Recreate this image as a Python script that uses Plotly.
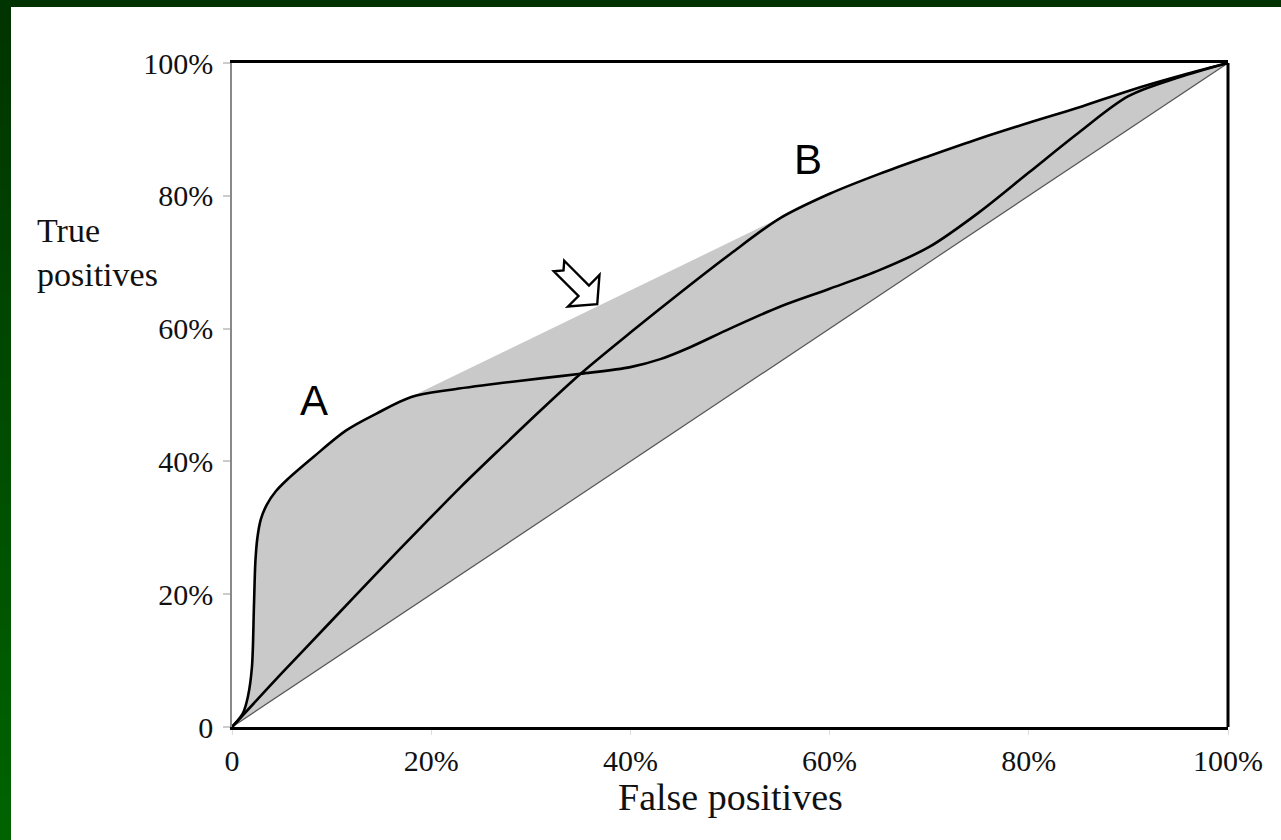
import plotly.graph_objects as go
import math

# ---------------- data ----------------
A_FPR = [0, 1.1, 1.6, 2.0, 2.2, 2.35, 2.55, 2.9, 3.5, 4.4, 5.5, 8.2, 11.5, 14.5, 18, 22, 27, 31,
         35, 40, 43, 46, 50, 55, 60, 65, 70, 75, 80, 85, 90, 95, 100]
A_TPR = [0, 2.1, 4.6, 9, 18, 25, 28.5, 31.3, 33.5, 35.5, 37.2, 40.7, 44.7, 47.2, 49.7, 50.8, 51.8,
         52.5, 53.2, 54.2, 55.4, 57.2, 60, 63.3, 66, 68.8, 72.3, 77.5, 83.5, 89.5, 95, 97.8, 100]

B_FPR = [0, 5, 10, 15, 19, 23, 27, 31, 35, 40, 45, 50, 55, 60, 65, 70, 75, 80, 85, 90, 95, 100]
B_TPR = [0, 8.1, 16, 23.9, 30.1, 36.2, 42, 47.7, 53.2, 59.4, 65.4, 71.2, 76.6, 80.3, 83.3,
         86, 88.6, 91, 93.3, 95.8, 98, 100]

DIAG_X = [0, 100]
DIAG_Y = [0, 100]

TICK_VALS = [0, 20, 40, 60, 80, 100]
TICK_TEXT = ["0", "20%", "40%", "60%", "80%", "100%"]

CURVE_LABELS = ["A", "B"]
LABEL_POS = [(8.2, 49.2), (57.8, 85.4)]

# ---------------- geometry helpers ----------------
W, H = 1281, 840
L, R, T, B = 232, 53, 63, 113
PW, PH = W - L - R, H - T - B


def px_to_data(px, py):
    return ((px - L) / PW * 100.0, (T + PH - py) / PH * 100.0)


def px_to_paper(px, py):
    return ((px - L) / PW, (T + PH - py) / PH)


# bridge of the convex hull between curve A and curve B
all_pts = list(zip(A_FPR, A_TPR)) + list(zip(B_FPR, B_TPR))
bridge = None
for i in range(len(A_FPR)):
    for j in range(len(B_FPR)):
        if B_FPR[j] <= A_FPR[i]:
            continue
        s = (B_TPR[j] - A_TPR[i]) / (B_FPR[j] - A_FPR[i])
        if all(py <= A_TPR[i] + s * (px - A_FPR[i]) + 1e-9 for px, py in all_pts):
            bridge = (i, j)
            break
    if bridge:
        break
bi, bj = bridge
fill_x = A_FPR[:bi + 1] + B_FPR[bj:] + [0]
fill_y = A_TPR[:bi + 1] + B_TPR[bj:] + [0]

fig = go.Figure()
fig.add_trace(go.Scatter(x=fill_x, y=fill_y, mode="lines", fill="toself",
                         fillcolor="#c9c9c9", line=dict(width=0), hoverinfo="skip",
                         showlegend=False))
fig.add_trace(go.Scatter(x=DIAG_X, y=DIAG_Y, mode="lines",
                         line=dict(color="#555555", width=1.2), showlegend=False))
fig.add_trace(go.Scatter(x=B_FPR, y=B_TPR, mode="lines",
                         line=dict(color="black", width=2.6, shape="spline", smoothing=0.9),
                         showlegend=False))
fig.add_trace(go.Scatter(x=A_FPR, y=A_TPR, mode="lines",
                         line=dict(color="black", width=2.6, shape="spline", smoothing=0.9),
                         showlegend=False))

shapes = []
# green frame: top band and left gradient band
tx0, _ = px_to_paper(0, 0)
tx1, _ = px_to_paper(W, 0)
_, ty0 = px_to_paper(0, 7)
_, ty1 = px_to_paper(0, 0)
shapes.append(dict(type="rect", xref="paper", yref="paper", x0=tx0, x1=tx1, y0=ty0, y1=ty1,
                   fillcolor="#003300", line=dict(width=0), layer="above"))
N = 40
lx0, _ = px_to_paper(0, 0)
lx1, _ = px_to_paper(11, 0)
for k in range(N):
    y_top = k * H / N
    y_bot = (k + 1) * H / N + 1
    g = int(round(51 + (100 - 51) * (k + 0.5) / N))
    _, py0 = px_to_paper(0, y_bot)
    _, py1 = px_to_paper(0, y_top)
    shapes.append(dict(type="rect", xref="paper", yref="paper", x0=lx0, x1=lx1, y0=py0, y1=py1,
                       fillcolor=f"rgb(0,{g},0)", line=dict(width=0), layer="above"))

# right border of plot frame
shapes.append(dict(type="line", xref="paper", yref="paper", x0=1, x1=1, y0=0, y1=1,
                   line=dict(color="black", width=3)))

# hollow block arrow (annotation), built in pixel space
tail = (559.0, 266.0)
ang = math.radians(45)
d = (math.cos(ang), math.sin(ang))
n = (math.sin(ang), -math.cos(ang))
sc = 1.06
local = [(0, 7), (33, 7), (33, 21), (51, 0), (33, -21), (33, -7), (0, -7), (6, 0)]
pts = []
for u, v in local:
    px = tail[0] + sc * (u * d[0] + v * n[0])
    py = tail[1] + sc * (u * d[1] + v * n[1])
    pts.append(px_to_data(px, py))
path = "M " + " L ".join(f"{x:.3f},{y:.3f}" for x, y in pts) + " Z"
shapes.append(dict(type="path", xref="x", yref="y", path=path, fillcolor="white",
                   line=dict(color="black", width=2.4)))

serif = "Liberation Serif, Times New Roman, serif"
annotations = []
for lab, (x, y) in zip(CURVE_LABELS, LABEL_POS):
    annotations.append(dict(x=x, y=y, xref="x", yref="y", text=lab, showarrow=False,
                            font=dict(family="Liberation Sans, Arial, sans-serif", size=42,
                                      color="black")))
ax_, ay_ = px_to_paper(35, 252)
annotations.append(dict(x=ax_, y=ay_, xref="paper", yref="paper", xanchor="left", yanchor="middle",
                        text="True<br>positives", showarrow=False, align="left",
                        font=dict(family=serif, size=34, color="#111111")))
fx_, fy_ = px_to_paper(730, 797)
annotations.append(dict(x=fx_, y=fy_, xref="paper", yref="paper", xanchor="center",
                        yanchor="middle", text="False positives", showarrow=False,
                        font=dict(family=serif, size=38, color="#111111")))

fig.update_layout(
    width=W, height=H,
    margin=dict(l=L, r=R, t=T, b=B, pad=0),
    paper_bgcolor="white", plot_bgcolor="white",
    shapes=shapes, annotations=annotations,
    showlegend=False,
    xaxis=dict(range=[0, 100], tickvals=TICK_VALS, ticktext=TICK_TEXT,
               showgrid=False, zeroline=False,
               showline=True, linecolor="black", linewidth=3, mirror=True,
               ticks="outside", ticklen=5, tickcolor="#dddddd", tickwidth=1,
               tickfont=dict(family=serif, size=30, color="#111111")),
    yaxis=dict(range=[0, 100], tickvals=TICK_VALS, ticktext=TICK_TEXT,
               showgrid=False, zeroline=False,
               showline=True, linecolor="#888888", linewidth=1.5,
               ticks="outside", ticklen=7, tickcolor="#cccccc", tickwidth=1.5,
               ticklabelstandoff=4,
               tickfont=dict(family=serif, size=30, color="#111111")),
)

fig.write_html("out.html")
